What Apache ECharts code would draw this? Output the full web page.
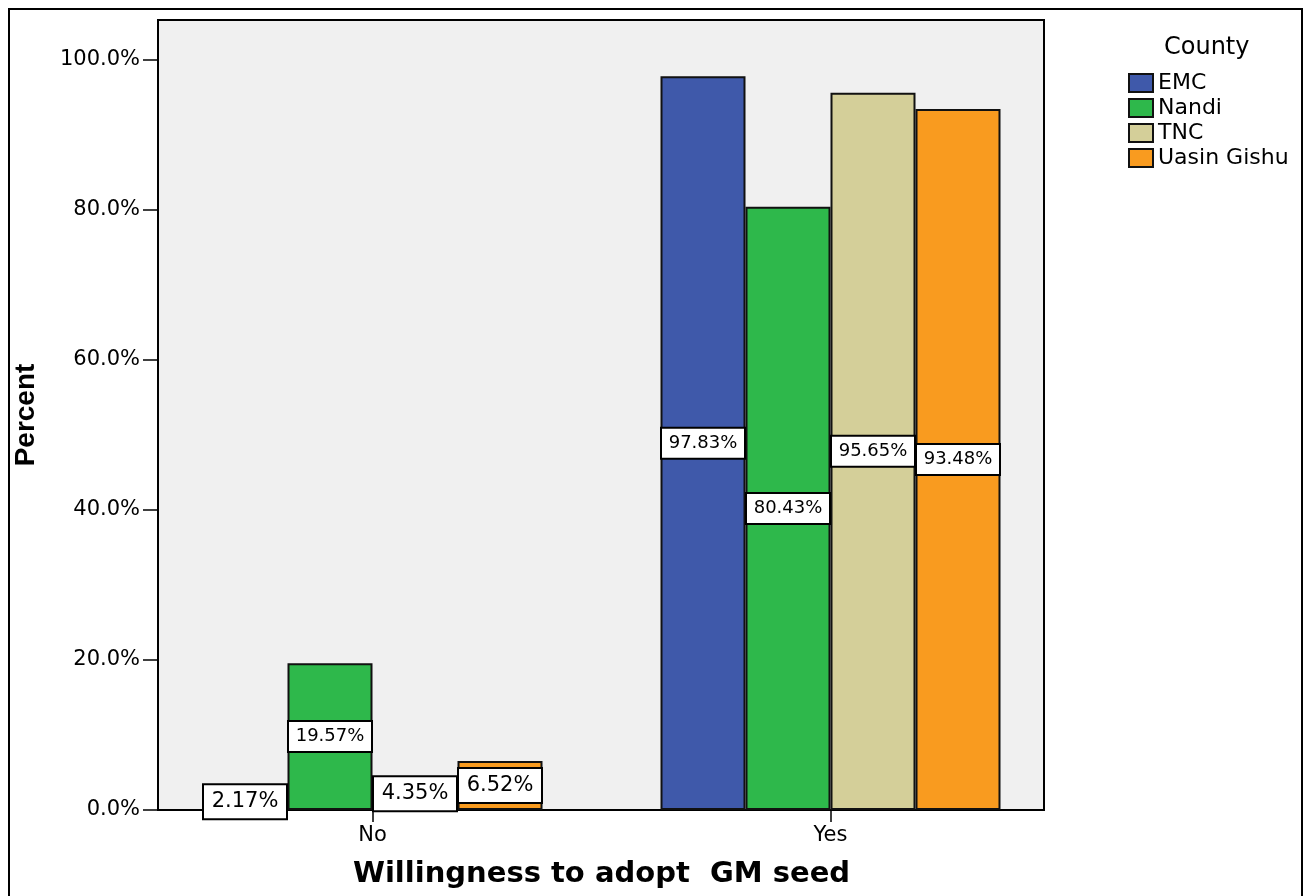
<!DOCTYPE html>
<html>
<head>
<meta charset="utf-8">
<title>Willingness to adopt GM seed</title>
<script src="https://cdn.jsdelivr.net/npm/echarts@6/dist/echarts.min.js"></script>
<style>
  html, body { margin: 0; padding: 0; background: #fff; }
  #chart { width: 1304px; height: 896px; }
</style>
</head>
<body>
<div id="chart"></div>
<script>
// Willingness to adopt GM seed, percent of respondents by county
const categories = ['No', 'Yes'];
const counties = ['EMC', 'Nandi', 'TNC', 'Uasin Gishu'];
const emc = [2.17, 97.83];
const nandi = [19.57, 80.43];
const tnc = [4.35, 95.65];
const uasinGishu = [6.52, 93.48];
const yTicks = [0, 20, 40, 60, 80, 100];

const seriesValues = [emc, nandi, tnc, uasinGishu];
const colors = ['#3f59aa', '#2eb84b', '#d4cf99', '#f99b1f'];

const FONT = "'DejaVu Sans', 'Liberation Sans', Arial, sans-serif";

const chart = echarts.init(document.getElementById('chart'), null, { renderer: 'canvas' });

// Labels sitting on very short bars are set in a slightly larger type
function buildData(values) {
  return values.map(v => v < 10
    ? { value: v, label: { fontSize: 21, padding: [6, 2, 6, 2] } }
    : v);
}

const series = counties.map((name, k) => ({
  name: name,
  type: 'bar',
  xAxisIndex: 1,
  yAxisIndex: 1,
  barWidth: 85,
  barGap: '0%',
  data: buildData(seriesValues[k]),
  itemStyle: { color: colors[k], borderColor: '#111', borderWidth: 2 },
  label: {
    show: true,
    position: 'inside',
    formatter: p => p.value.toFixed(2) + '%',
    fontFamily: FONT,
    fontSize: 18,
    color: '#000',
    backgroundColor: '#fff',
    borderColor: '#000',
    borderWidth: 2,
    width: 78,
    align: 'center',
    padding: [6, 2, 5, 2]
  },
  emphasis: { disabled: true }
}));

const option = {
  animation: false,
  backgroundColor: '#fff',
  graphic: [{
    type: 'rect',
    shape: { x: 9, y: 9, width: 1293, height: 960 },
    style: { fill: 'none', stroke: '#000', lineWidth: 2 },
    silent: true,
    z: 100
  }],
  title: {
    text: 'County',
    left: 1164,
    top: 36,
    padding: 0,
    textStyle: { fontFamily: FONT, fontSize: 24, fontWeight: 'normal', color: '#000' }
  },
  legend: {
    orient: 'vertical',
    left: 1128,
    top: 72,
    padding: 0,
    itemWidth: 24,
    itemHeight: 18,
    itemGap: 3,
    itemTextGap: 6,
    icon: 'rect',
    data: counties,
    textStyle: { fontFamily: FONT, fontSize: 22, color: '#000' },
    itemStyle: { borderColor: '#111', borderWidth: 2 }
  },
  grid: [
    // plot frame
    { left: 158, right: 260, top: 20, bottom: 86, show: true,
      backgroundColor: '#f0f0f0', borderColor: '#000', borderWidth: 2 },
    // bars
    { left: 143.5, right: 244.5, top: 60, bottom: 86 }
  ],
  xAxis: [
    { gridIndex: 0, type: 'category', data: categories, show: false },
    {
      gridIndex: 1,
      type: 'category',
      data: categories,
      axisLine: { show: false },
      axisTick: { show: true, alignWithLabel: true, length: 12, lineStyle: { color: '#000', width: 1.5 } },
      axisLabel: { fontFamily: FONT, fontSize: 21, color: '#000', margin: 15 },
      name: 'Willingness to adopt  GM seed',
      nameLocation: 'middle',
      nameGap: 50,
      nameTextStyle: { fontFamily: FONT, fontSize: 29, fontWeight: 'bold', color: '#000' }
    }
  ],
  yAxis: [
    {
      gridIndex: 0,
      type: 'value',
      min: 0,
      max: 100,
      axisLine: { show: false },
      axisTick: { show: false },
      axisLabel: { show: false },
      splitLine: { show: false },
      name: 'Percent',
      nameLocation: 'middle',
      nameGap: 118,
      nameRotate: 90,
      nameTextStyle: { fontFamily: "'Liberation Sans', Arial, sans-serif", fontSize: 28, fontWeight: 'bold', color: '#000' }
    },
    {
      gridIndex: 1,
      type: 'value',
      min: yTicks[0],
      max: yTicks[yTicks.length - 1],
      interval: 20,
      offset: -14.5,
      axisLine: { show: true, lineStyle: { color: '#000', width: 1.5 } },
      axisTick: { show: true, length: 15, lineStyle: { color: '#000', width: 1.5 } },
      axisLabel: { fontFamily: FONT, fontSize: 21, color: '#000', margin: 18,
                   formatter: v => v.toFixed(1) + '%' },
      splitLine: { show: false }
    }
  ],
  series: series
};

chart.setOption(option);
</script>
</body>
</html>
